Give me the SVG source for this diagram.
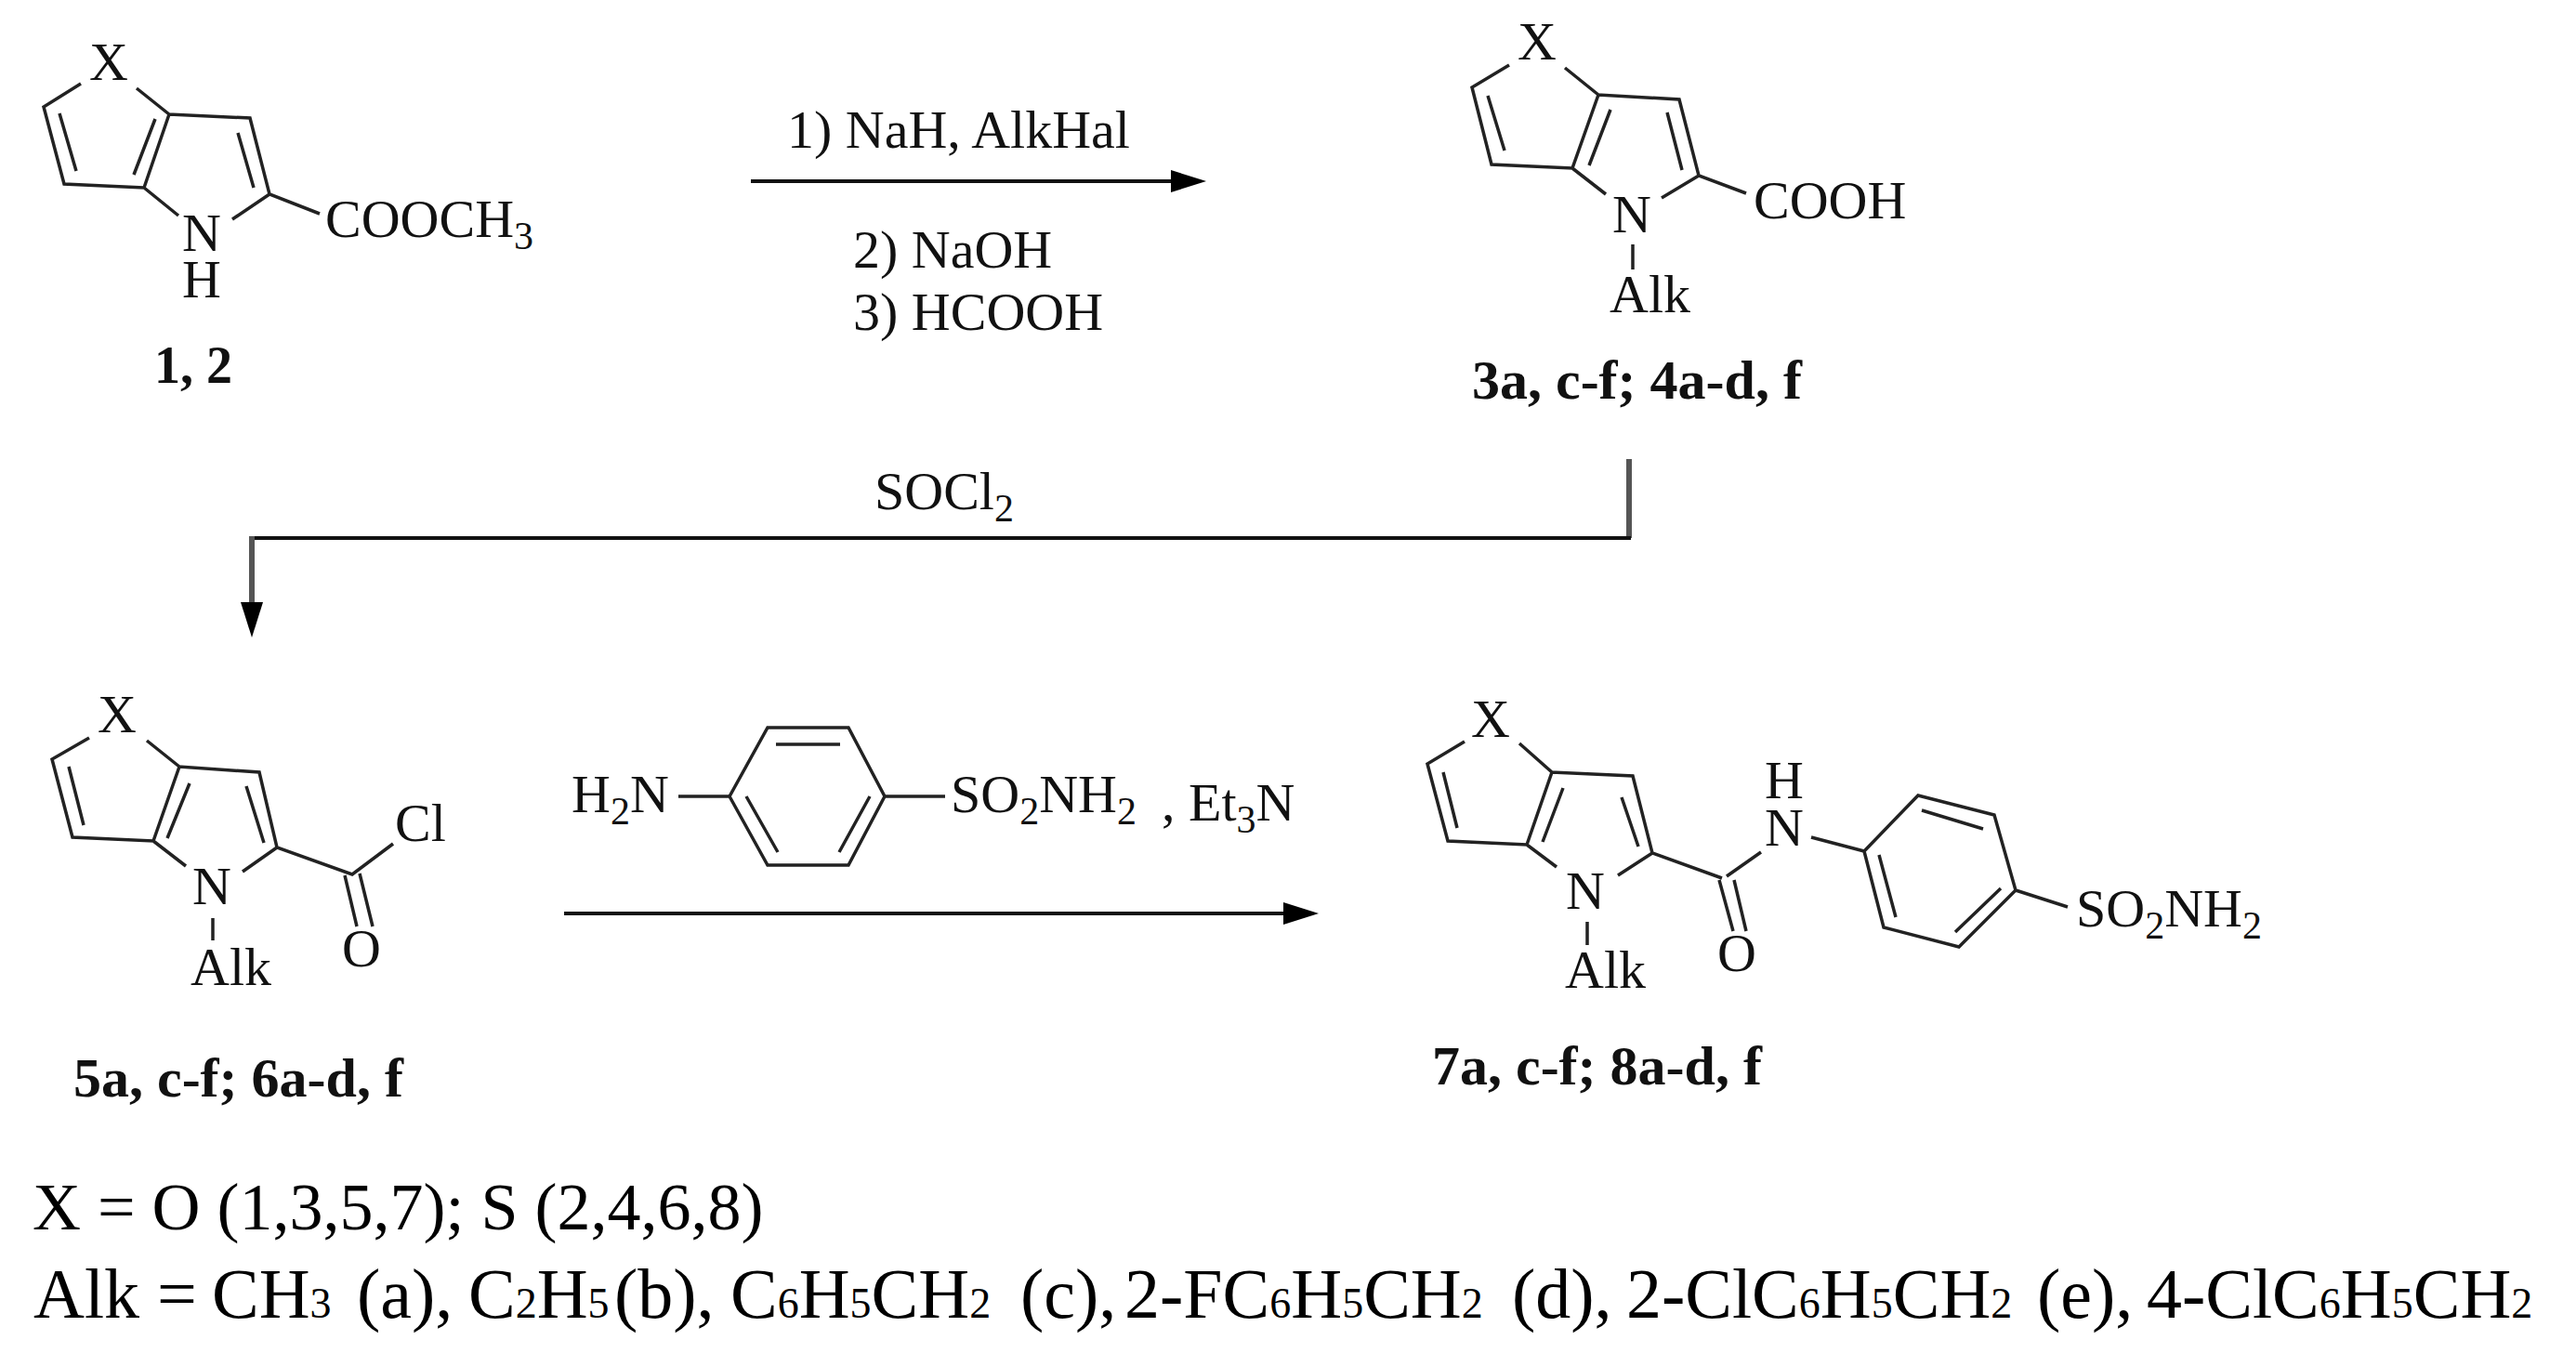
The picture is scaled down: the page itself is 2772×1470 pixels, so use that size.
<svg xmlns="http://www.w3.org/2000/svg" width="2772" height="1470" viewBox="0 0 2772 1470">
<defs>
<marker id="ah" markerUnits="userSpaceOnUse" markerWidth="40" markerHeight="26" refX="2" refY="13" orient="auto"><path d="M0,1 L38,13 L0,25 Z" fill="#000"/></marker>
</defs>
<style>
text{font-family:"Liberation Serif","Times New Roman",serif;font-size:58px;fill:#111}
.b{font-weight:bold;font-size:60px}
.n{font-weight:bold;font-size:56px}
.f{font-size:72px;fill:#000}
.g{font-size:76px;fill:#000}
.s{font-size:42px}
.t{font-size:46px}
.bond{fill:none;stroke:#222;stroke-width:3.5;stroke-linejoin:miter}
.arr{fill:none;stroke:#111;stroke-width:4}
.arv{fill:none;stroke:#555;stroke-width:6}
</style>
<rect width="2772" height="1470" fill="#fff"/>
<g id="connectors">
<path class="arr" d="M808,195H1262" marker-end="url(#ah)"/>
<path class="arv" d="M1753,494V579"/>
<path class="arr" d="M1755,579H269"/>
<path class="arv" d="M271,577V650" marker-end="url(#ah)"/>
<path class="arr" d="M607,983H1383" marker-end="url(#ah)"/>
</g>
<g id="compound-1-2">
<path class="bond" d="M87,90L47,115L69,198L155,202L182,123L269,127L290,209L344,230M147,95L182,123M64,122L82,184M167,128L144,188M256,143L273,202M155,202L192,232M250,236L290,209"/>
<text x="117" y="86" text-anchor="middle">X</text>
<text text-anchor="middle"><tspan x="217" y="270">N</tspan><tspan x="217" y="320">H</tspan></text>
<text x="350" y="255">COOCH<tspan class="s" dy="13">3</tspan></text>
<text class="n" x="208" y="412" text-anchor="middle">1, 2</text>
</g>
<g id="conditions-1">
<text x="847" y="159">1) NaH, AlkHal</text>
<text x="918" y="288">2) NaOH</text>
<text x="918" y="355">3) HCOOH</text>
</g>
<g id="compound-3-4">
<path class="bond" d="M1624,70L1584,94L1605,177L1692,181L1720,102L1807,107L1828,189L1879,208M1684,73L1720,102M1601,103L1619,162M1733,118L1710,178M1794,121L1810,183M1692,181L1728,209M1788,213L1828,189M1757,263V290"/>
<text x="1654" y="64" text-anchor="middle">X</text>
<text x="1756" y="250" text-anchor="middle">N</text>
<text x="1887" y="235">COOH</text>
<text x="1732" y="336">Alk</text>
<text class="b" x="1584" y="429">3a, c-f; 4a-d, f</text>
</g>
<g id="condition-socl2">
<text x="941" y="548">SOCl<tspan class="s" dy="13">2</tspan></text>
</g>
<g id="compound-5-6">
<path class="bond" d="M96,794L56,817L78,901L165,905L193,825L279,831L298,912L379,941L423,908M158,797L193,825M74,825L90,888M204,843L180,902M265,846L284,907M165,905L200,932M261,938L298,912M229,988V1012M371,942L384,997M387,940L401,997"/>
<text x="126" y="788" text-anchor="middle">X</text>
<text x="228" y="973" text-anchor="middle">N</text>
<text x="425" y="905">Cl</text>
<text x="389" y="1040" text-anchor="middle">O</text>
<text x="205" y="1060">Alk</text>
<text class="b" x="79" y="1180">5a, c-f; 6a-d, f</text>
</g>
<g id="reagent-sulfanilamide">
<path class="bond" d="M730,857H785L826,783H913L952,857L913,931H826L785,857M835,801H904M803,857L837,917M936,857L903,917M952,857H1017"/>
<text x="615" y="874">H<tspan class="s" dy="13">2</tspan><tspan dy="-13">N</tspan></text>
<text x="1023" y="874">SO<tspan class="s" dy="13">2</tspan><tspan dy="-13">NH</tspan><tspan class="s" dy="13">2</tspan></text>
<text x="1250" y="883">,</text>
<text x="1279" y="883">Et<tspan class="s" dy="13">3</tspan><tspan dy="-13">N</tspan></text>
</g>
<g id="compound-7-8">
<path class="bond" d="M1576,798L1536,822L1558,905L1643,909L1670,831L1757,835L1778,918L1853,945M1635,800L1670,831M1553,831L1568,891M1682,848L1660,906M1745,858L1763,911M1643,909L1675,933M1741,942L1778,918M1708,992V1017M1850,947L1865,1002M1866,947L1879,1002M1858,943L1895,917M1949,901L2006,916L2064,856L2146,877L2169,958L2108,1019L2027,998L2006,916M2068,872L2134,892M2022,920L2040,987M2153,956L2104,1003M2169,958L2225,976"/>
<text x="1604" y="793" text-anchor="middle">X</text>
<text x="1706" y="978" text-anchor="middle">N</text>
<text text-anchor="middle"><tspan x="1920" y="859">H</tspan><tspan x="1920" y="910">N</tspan></text>
<text x="1869" y="1045" text-anchor="middle">O</text>
<text x="1684" y="1063">Alk</text>
<text x="2234" y="997">SO<tspan class="s" dy="13">2</tspan><tspan dy="-13">NH</tspan><tspan class="s" dy="13">2</tspan></text>
<text class="b" x="1541" y="1167">7a, c-f; 8a-d, f</text>
</g>
<g id="legend">
<text class="f" x="35" y="1323">X = O (1,3,5,7); S (2,4,6,8)</text>
<text class="g" y="1418"><tspan x="36">Alk = </tspan><tspan x="228">CH</tspan><tspan class="t">3</tspan><tspan x="384">(a),</tspan><tspan x="504">C</tspan><tspan class="t">2</tspan><tspan>H</tspan><tspan class="t">5</tspan><tspan x="661">(b),</tspan><tspan x="786">C</tspan><tspan class="t">6</tspan><tspan>H</tspan><tspan class="t">5</tspan><tspan>CH</tspan><tspan class="t">2</tspan><tspan x="1098">(c),</tspan><tspan x="1210">2-FC</tspan><tspan class="t">6</tspan><tspan>H</tspan><tspan class="t">5</tspan><tspan>CH</tspan><tspan class="t">2</tspan><tspan x="1627">(d),</tspan><tspan x="1750">2-ClC</tspan><tspan class="t">6</tspan><tspan>H</tspan><tspan class="t">5</tspan><tspan>CH</tspan><tspan class="t">2</tspan><tspan x="2192">(e),</tspan><tspan x="2310">4-ClC</tspan><tspan class="t">6</tspan><tspan>H</tspan><tspan class="t">5</tspan><tspan>CH</tspan><tspan class="t">2</tspan></text>
</g>
</svg>
